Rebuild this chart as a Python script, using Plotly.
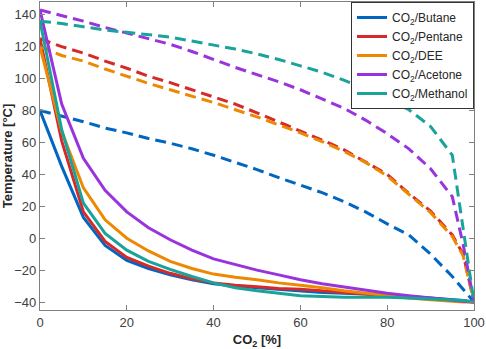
import plotly.graph_objects as go

co2 = [0, 5, 10, 15, 20, 25, 30, 35, 40, 45, 50, 55, 60, 65, 70, 75, 80, 85, 90, 95, 97.5, 100]

names = ["CO<sub>2</sub>/Butane", "CO<sub>2</sub>/Pentane", "CO<sub>2</sub>/DEE",
         "CO<sub>2</sub>/Acetone", "CO<sub>2</sub>/Methanol"]

# bubble (solid) curves
butane_bub = [80, 45, 13, -4.5, -14, -19, -23, -26, -28.5, -30, -31, -32, -33, -34, -34.5, -35, -36, -36.5, -37.5, -38.5, -39, -40]
pentane_bub = [125, 61, 16.5, -2, -12, -17.5, -22, -25.5, -28, -29.5, -30.5, -31.5, -32, -33, -34, -35, -36, -37, -38, -39, -39.5, -40]
dee_bub = [120, 67, 31.5, 11.5, 0, -8, -14.5, -19, -22.5, -24.5, -26, -28, -29.5, -31, -33, -34.5, -36, -37.5, -38.5, -39.5, -40, -40]
acetone_bub = [143, 84, 50, 30, 16.5, 6.5, -1, -7.5, -13, -16.5, -20, -23, -26, -28.5, -30.5, -32.5, -34.5, -36, -37.5, -39, -39.5, -40]
methanol_bub = [136, 68, 22, 3, -7.5, -14.5, -19.5, -24, -28, -31, -33, -34.5, -36, -36.5, -37, -37, -37, -37.5, -38, -38.5, -39, -40]

# dew (dashed) curves
butane_dew = [80, 76.5, 73, 69, 66, 62.5, 59.5, 56, 52, 47.5, 43, 38, 33.5, 28.5, 23, 16.5, 9, 2, -10, -24, -32, -40]
pentane_dew = [125, 120, 116, 111, 106.5, 101.5, 97.5, 93, 88.5, 84, 78.5, 73, 67.5, 61.5, 55.5, 48, 40, 28, 17, 2, -10, -40]
dee_dew = [120, 114.5, 111, 106, 101.5, 97, 93, 89, 85, 80.5, 76, 71, 66, 60.5, 54.5, 47.5, 39, 27.5, 16, 1, -11, -40]
acetone_dew = [143, 139.5, 136, 132, 128.5, 125, 121.5, 117, 112, 107, 102.5, 98, 93, 87.5, 81.5, 74, 65.5, 56, 43.5, 26, -4, -40]
methanol_dew = [136, 134.5, 132.5, 130.5, 129, 127.5, 126, 123.5, 121, 118.5, 115.5, 112, 108, 104, 99, 93.5, 87.5, 80.5, 70, 52, 6, -40]

bubbles = [butane_bub, pentane_bub, dee_bub, acetone_bub, methanol_bub]
dews = [butane_dew, pentane_dew, dee_dew, acetone_dew, methanol_dew]
colors = ["#0066C0", "#D62A2A", "#EE8800", "#9933DD", "#1AA39A"]

x_ticks = [0, 20, 40, 60, 80, 100]
y_ticks = [-40, -20, 0, 20, 40, 60, 80, 100, 120, 140]

fig = go.Figure()
for name, bub, dew, c in zip(names, bubbles, dews, colors):
    fig.add_trace(go.Scatter(x=co2, y=bub, mode="lines", name=name, legendgroup=name,
                             line=dict(color=c, width=3)))
    fig.add_trace(go.Scatter(x=co2, y=dew, mode="lines", name=name, legendgroup=name,
                             showlegend=False,
                             line=dict(color=c, width=3, dash="11px,6px")))

axis_common = dict(showline=True, linecolor="#808080", linewidth=1.2, mirror="ticks",
                   ticks="inside", ticklen=5, tickcolor="#808080", showgrid=False,
                   zeroline=False, tickfont=dict(size=13, color="#404040"))

fig.update_xaxes(range=[0, 100], tickvals=x_ticks,
                 title=dict(text="<b>CO<sub>2</sub> [%]</b>", font=dict(size=13, color="#262626"),
                            standoff=6),
                 **axis_common)
fig.update_yaxes(range=[-45, 148], tickvals=y_ticks,
                 title=dict(text="<b>Temperature [°C]</b>", font=dict(size=13, color="#262626"),
                            standoff=4),
                 **axis_common)

fig.update_layout(
    width=486, height=349,
    margin=dict(l=37, r=12, t=1, b=39),
    paper_bgcolor="white", plot_bgcolor="white",
    font=dict(family="Liberation Sans, Arial, sans-serif", color="#262626"),
    legend=dict(x=1, y=1, xanchor="right", yanchor="top",
                bgcolor="white", bordercolor="#333333", borderwidth=1,
                font=dict(size=12, color="#262626"), tracegroupgap=0,
                itemwidth=30),
)

fig.write_html("out.html")
